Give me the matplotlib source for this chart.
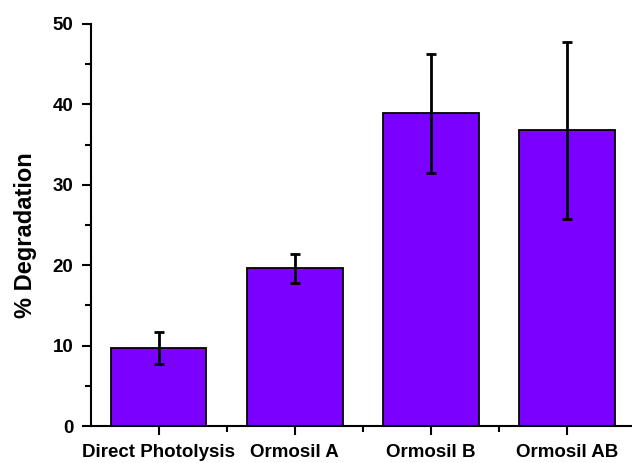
import matplotlib
matplotlib.use("Agg")
import matplotlib.pyplot as plt
from matplotlib.ticker import MultipleLocator, FixedLocator

categories = ["Direct Photolysis", "Ormosil A", "Ormosil B", "Ormosil AB"]
values = [9.7, 19.6, 38.9, 36.8]
errors = [2.0, 1.8, 7.4, 11.0]

plt.rcParams['font.family'] = ['Liberation Sans', 'DejaVu Sans']
plt.rcParams['font.weight'] = 'bold'

fig = plt.figure(figsize=(6.32, 4.63), dpi=100)
ax = fig.add_axes([0.1435, 0.0799, 0.8615, 0.8683])

x = list(range(len(categories)))
ax.bar(x, values, width=0.7, color="#7B00FF", edgecolor="black", linewidth=1.3, zorder=2)
ax.errorbar(x, values, yerr=errors, fmt="none", ecolor="black", elinewidth=2,
            capsize=3.5, capthick=2, zorder=3)

ax.set_xlim(-0.5, 3.5)
ax.set_ylim(0, 50)
ax.set_xticks(x)
ax.set_xticklabels(categories, fontsize=13.5, fontweight="bold")
ax.xaxis.set_minor_locator(FixedLocator([0.5, 1.5, 2.5]))
ax.yaxis.set_major_locator(MultipleLocator(10))
ax.yaxis.set_minor_locator(MultipleLocator(5))
for lab in ax.get_yticklabels():
    lab.set_fontsize(13.5)
    lab.set_fontweight("bold")
ax.tick_params(axis="both", which="major", direction="out", length=6.3, width=1.5)
ax.tick_params(axis="x", which="major", pad=7)
ax.tick_params(axis="y", which="major", pad=6)
ax.tick_params(axis="both", which="minor", direction="out", length=4, width=1.5)
ax.set_ylabel("% Degradation", fontsize=17, fontweight="bold")
ax.yaxis.set_label_coords(-0.099, 0.475)

for s in ["top", "right"]:
    ax.spines[s].set_visible(False)
for s in ["left", "bottom"]:
    ax.spines[s].set_linewidth(1.5)

fig.savefig("out.png", dpi=100)
